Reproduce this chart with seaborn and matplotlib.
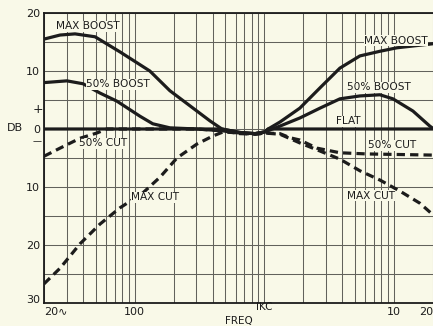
import matplotlib
matplotlib.use("Agg")
import matplotlib.pyplot as plt
import matplotlib.transforms as mtransforms
from matplotlib.ticker import FixedLocator, FixedFormatter, LogLocator, NullFormatter
import seaborn as sns

# Tone-control response curves: frequency (Hz) and level (dB)
max_boost_f = [20, 26.6, 34.7, 49.5, 77, 131, 187, 267, 381, 471, 649, 850, 1010, 1070,
               1320, 1880, 2690, 3830, 5460, 7790, 10540, 20000]
max_boost_db = [15.5, 16.2, 16.4, 15.9, 13.3, 10.0, 6.6, 4.0, 1.4, 0.0, -0.6, -0.8, -0.5, 0.0,
                1.2, 3.6, 7.1, 10.5, 12.6, 13.4, 14.0, 14.7]

half_boost_f = [20, 30, 40, 54, 73, 110, 138, 187, 300, 471, 649, 850, 1010, 1320, 1880,
                2690, 3830, 5460, 7790, 9820, 14000, 18900, 20000]
half_boost_db = [8.0, 8.3, 7.8, 6.2, 4.8, 2.2, 0.9, 0.2, 0.0, -0.3, -0.7, -0.8, -0.5, 0.5, 1.9,
                 3.6, 5.2, 5.7, 5.9, 5.2, 3.1, 0.5, 0.1]

flat_f = [20, 471, 649, 850, 1010, 1070, 20000]
flat_db = [0.0, 0.0, -0.6, -0.8, -0.5, 0.0, 0.0]

half_cut_f = [20, 26.6, 37.9, 51, 61, 300, 471, 649, 850, 1010, 1320, 1576, 1880, 2546,
              3830, 6190, 20000]
half_cut_db = [-4.7, -3.3, -1.6, -0.7, 0.0, 0.0, -0.3, -0.8, -0.9, -0.7, -0.8, -1.5, -1.9, -3.3,
               -4.1, -4.3, -4.5]

max_cut_f = [20, 26.6, 37.9, 54, 77, 116, 157, 212, 302, 402, 482, 649, 850, 1010, 1320,
             1880, 2690, 3830, 5460, 7790, 11100, 15850, 20000]
max_cut_db = [-26.7, -24.0, -19.8, -16.4, -13.6, -11.0, -8.3, -5.0, -2.6, -1.2, -0.5, -0.7,
              -0.9, -0.7, -0.9, -2.4, -3.8, -5.2, -7.2, -8.8, -10.7, -12.8, -14.8]

x_tick_values = [20, 100, 1000, 10000, 20000]
x_tick_labels = ["20\u223f", "100", "", "10", "20"]
y_tick_values = [20, 10, 0, -10, -20, -30]
y_tick_labels = ["20", "10", "0", "10", "20", "30"]

# Curve labels: (text, frequency, dB)
curve_labels = [
    ("MAX BOOST", 43.7, 17.7),
    ("50% BOOST", 74.4, 7.7),
    ("50% CUT", 57, -2.5),
    ("MAX CUT", 143.5, -11.8),
    ("MAX BOOST", 10350, 15.2),
    ("50% BOOST", 7660, 7.2),
    ("FLAT", 4410, 1.3),
    ("50% CUT", 9640, -2.8),
    ("MAX CUT", 6640, -11.5),
]

BG = "#f9f9e8"
INK = "#1c1c1c"
GRID = "#62625c"

sns.set_style("white")
plt.rcParams["font.family"] = ["DejaVu Sans"]

fig = plt.figure(figsize=(4.33, 3.26), dpi=100, facecolor=BG)
ax = fig.add_axes([44 / 433, 23 / 326, 389 / 433, 290 / 326])
ax.set_facecolor(BG)

ax.set_xscale("log")
ax.set_xlim(20, 20000)
ax.set_ylim(-30, 20)

# log-paper grid
ax.xaxis.set_major_locator(FixedLocator(x_tick_values))
ax.xaxis.set_major_formatter(FixedFormatter(x_tick_labels))
ax.xaxis.set_minor_locator(LogLocator(base=10, subs=range(2, 10), numticks=20))
ax.xaxis.set_minor_formatter(NullFormatter())
ax.yaxis.set_major_locator(FixedLocator(y_tick_values))
ax.yaxis.set_major_formatter(FixedFormatter(y_tick_labels))
ax.yaxis.set_minor_locator(FixedLocator([15, 5, -5, -15, -25]))
ax.grid(which="both", color=GRID, linewidth=0.75)
ax.set_axisbelow(True)

for s in ["left", "top", "bottom"]:
    ax.spines[s].set_color(INK)
    ax.spines[s].set_linewidth(1.3)
ax.spines["right"].set_visible(False)

ax.tick_params(which="both", length=0, labelsize=8, colors=INK)
ax.tick_params(axis="x", pad=3)
ax.tick_params(axis="y", pad=3)
xlabels = ax.get_xticklabels()
xlabels[0].set_horizontalalignment("left")
xlabels[-1].set_horizontalalignment("right")
ax.get_yticklabels()[-1].set_verticalalignment("baseline")

lw = 2.3
solid = dict(color=INK, linewidth=lw, solid_capstyle="round")
dashed = dict(color=INK, linewidth=lw, linestyle=(0, (2.6, 1.6)))

sns.lineplot(x=flat_f, y=flat_db, ax=ax, **solid)
sns.lineplot(x=half_boost_f, y=half_boost_db, ax=ax, **solid)
sns.lineplot(x=max_boost_f, y=max_boost_db, ax=ax, **solid)
sns.lineplot(x=half_cut_f, y=half_cut_db, ax=ax, **dashed)
sns.lineplot(x=max_cut_f, y=max_cut_db, ax=ax, **dashed)

for text, f, db in curve_labels:
    ax.text(f, db, text, fontsize=7.6, color=INK, ha="center", va="center",
            bbox=dict(facecolor=BG, edgecolor="none", pad=0.3))

# axis captions
trans = mtransforms.blended_transform_factory(ax.transAxes, ax.transData)
ax.text(-0.075, 0.2, "DB", transform=trans, fontsize=8, color=INK, ha="center", va="center")
ax.text(-0.016, 3.4, "+", transform=trans, fontsize=9, color=INK, ha="center", va="center")
ax.text(-0.018, -2.2, "\u2014", transform=trans, fontsize=6.5, color=INK, ha="center",
        va="center")

xtrans = mtransforms.blended_transform_factory(ax.transData, ax.transAxes)
ax.text(1000, -0.013, "IKC", transform=xtrans, fontsize=7.5, color=INK, ha="center", va="center")
ax.set_xlabel("FREQ", fontsize=7.5, color=INK, labelpad=-1)
ax.set_ylabel("")

fig.savefig("out.png", dpi=100, facecolor=BG)
